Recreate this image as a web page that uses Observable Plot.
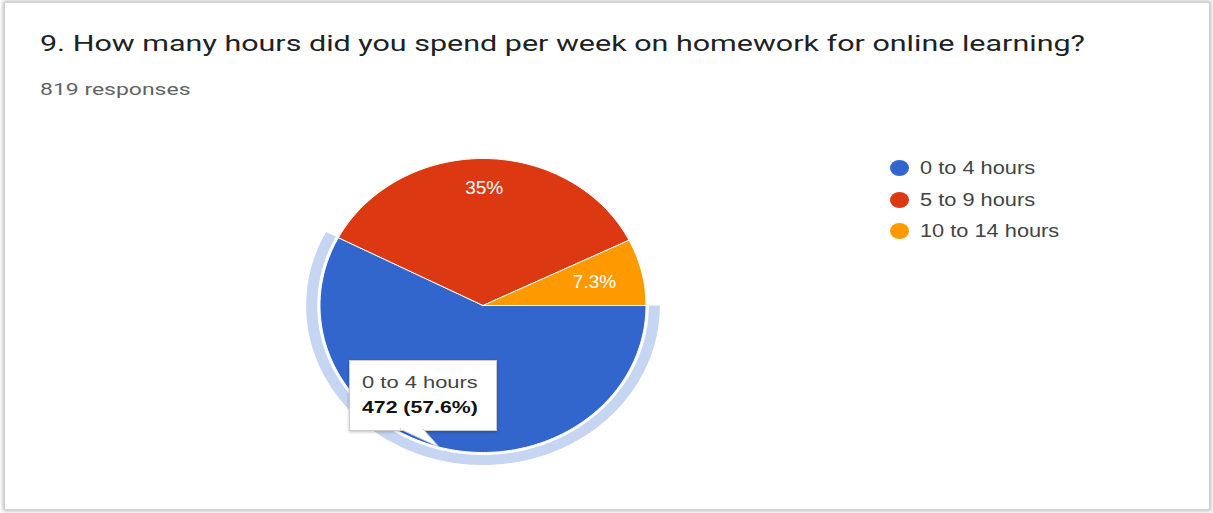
<!DOCTYPE html>
<html>
<head>
<meta charset="utf-8">
<script src="https://cdn.jsdelivr.net/npm/d3@7"></script>
<script src="https://cdn.jsdelivr.net/npm/@observablehq/plot@0.6"></script>
<style>
  html, body { margin: 0; padding: 0; background: #fff; width: 1213px; height: 513px; overflow: hidden; }
  #card { position: absolute; left: 4px; top: 2px; width: 1204px; height: 506px; border: 1px solid #cfcfcf; box-shadow: 0 0 4px 1px rgba(0,0,0,0.28); background: #fff; }
  #title { position: absolute; left: 40px; top: 33px; font-family: Roboto, "Noto Sans", sans-serif; font-size: 22px; line-height: 1; color: #202124; white-space: nowrap; transform-origin: 0 0; transform: scaleX(1.385); }
  #sub { position: absolute; left: 40px; top: 81px; font-family: Roboto, "Noto Sans", sans-serif; font-size: 17px; line-height: 1; color: #5f6368; white-space: nowrap; transform-origin: 0 0; transform: scaleX(1.35); }
  #chart { position: absolute; left: 0; top: 120px; }
  #legend { position: absolute; left: 890px; top: 157px; font-family: "Liberation Sans", Arial, sans-serif; font-size: 18px; color: #444; }
  .item { position: relative; height: 31.5px; white-space: nowrap; }
  .sw { position: absolute; left: 0; top: 3px; width: 19px; height: 16px; border-radius: 50%; }
  .lab { position: absolute; left: 30px; top: 0; line-height: 22px; transform-origin: 0 0; transform: scaleX(1.21); }
  #tip { position: absolute; left: 349px; top: 360px; width: 146px; height: 69px; background: #fff; border: 1px solid #ccc; box-shadow: 0 1px 3px rgba(0,0,0,0.25); font-family: "Liberation Sans", Arial, sans-serif; font-size: 17px; color: #444; }
  #tip .l1, #tip .l2 { position: absolute; left: 12px; white-space: nowrap; transform-origin: 0 0; }
  #tip .l1 { top: 12px; transform: scaleX(1.29); }
  #tip .l2 { top: 37px; font-weight: bold; color: #111; transform: scaleX(1.25); }
  #tail { position: absolute; left: 0; top: 0; overflow: visible; }
</style>
</head>
<body>
<div id="card"></div>
<div id="title">9. How many hours did you spend per week on homework for online learning?</div>
<div id="sub">819 responses</div>
<div id="chart"></div>
<div id="legend"></div>
<div id="tip"></div>
<script>
// ---- data ----
const categories = ["0 to 4 hours", "5 to 9 hours", "10 to 14 hours"];
const counts = [472, 287, 60];
const percentLabels = ["57.6%", "35%", "7.3%"];
const colors = ["#3366cc", "#dc3912", "#ff9900"];
const highlighted = "0 to 4 hours";
const highlightPercent = "57.6%";

// ---- geometry from data ----
const pie = d3.pie().sort(null).startAngle(Math.PI / 2).endAngle(Math.PI / 2 + 2 * Math.PI);
const arcs = pie(counts);
function arcPts(a0, a1, r) {
  const n = Math.max(2, Math.ceil((a1 - a0) / (Math.PI / 180)));
  return d3.range(n + 1).map(i => {
    const a = a0 + (a1 - a0) * i / n;
    return {x: r * Math.sin(a), y: r * Math.cos(a)};
  });
}
const slicePts = arcs.flatMap((a, i) =>
  [{x: 0, y: 0}, ...arcPts(a.startAngle, a.endAngle, 1), {x: 0, y: 0}]
    .map(p => ({...p, key: categories[i]})));
const hi = arcs[categories.indexOf(highlighted)];
const ringPts = [...arcPts(hi.startAngle, hi.endAngle, 1.085),
                 ...arcPts(hi.startAngle, hi.endAngle, 1.017).reverse()];
// slice labels (the highlighted slice's label sits under the tooltip)
const labels = arcs.map((a, i) => {
  const m = (a.startAngle + a.endAngle) / 2;
  const r = 0.8 - 0.1 * Math.abs(Math.sin(m));
  return {x: r * Math.sin(m), y: r * Math.cos(m), text: percentLabels[i], key: categories[i]};
}).filter(d => d.key !== highlighted);

const chart = Plot.plot({
  width: 1213,
  height: 380,
  marginLeft: 319.5,
  marginRight: 567.5,
  marginTop: 38,
  marginBottom: 48,
  x: {domain: [-1, 1], axis: null},
  y: {domain: [-1, 1], axis: null},
  color: {domain: categories, range: colors},
  style: {fontFamily: "'Liberation Sans', Arial, sans-serif", background: "transparent"},
  marks: [
    Plot.line(ringPts, {x: "x", y: "y", fill: "#c6d5f1", stroke: "none", curve: "linear"}),
    Plot.line(slicePts, {x: "x", y: "y", z: "key", fill: "key", stroke: "white", strokeWidth: 1, strokeLinejoin: "round", curve: "linear"}),
    Plot.text(labels, {x: "x", y: "y", text: "text", fill: "white", fontSize: 19})
  ]
});
document.getElementById("chart").appendChild(chart);

// ---- legend ----
const legend = document.getElementById("legend");
categories.forEach((c, i) => {
  const it = document.createElement("div");
  it.className = "item";
  it.innerHTML = `<span class="sw" style="background:${colors[i]}"></span><span class="lab">${c}</span>`;
  legend.appendChild(it);
});

// ---- tooltip ----
const tip = document.getElementById("tip");
const hiCount = counts[categories.indexOf(highlighted)];
tip.innerHTML = `<div class="l1">${highlighted}</div><div class="l2">${hiCount} (${highlightPercent})</div>
<svg id="tail" width="146" height="100"><polygon points="50,68 73,68 89,86" fill="#fff" stroke="#ccc" stroke-width="1"/><rect x="51" y="66" width="21" height="3" fill="#fff"/></svg>`;
</script>
</body>
</html>
